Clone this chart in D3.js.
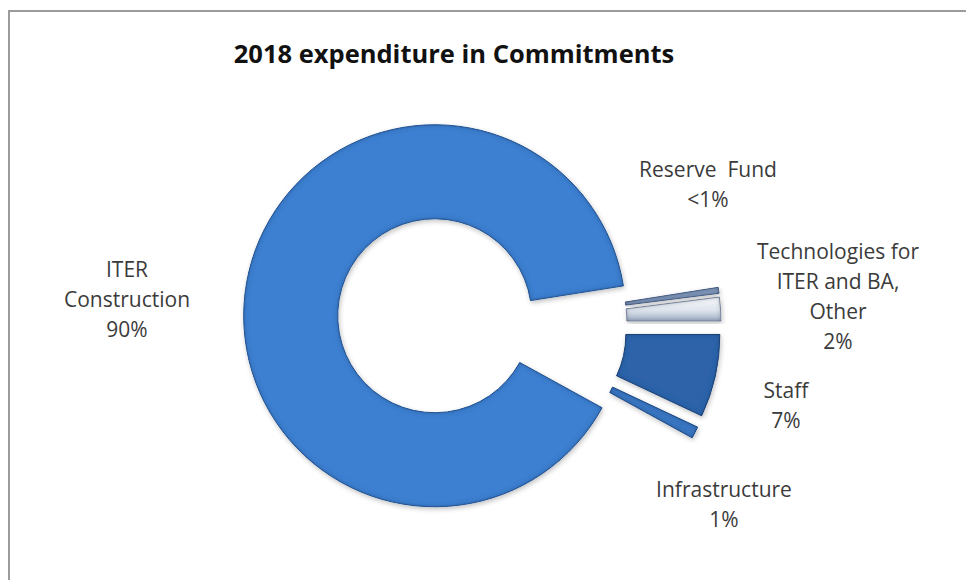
<!DOCTYPE html>
<html>
<head>
<meta charset="utf-8">
<script src="https://cdn.jsdelivr.net/npm/d3@7"></script>
<style>
  body { margin: 0; background: #fff; }
  svg { display: block; }
  .title { font-family: 'Open Sans', sans-serif; font-weight: bold; fill: #111; }
  .lbl { font-family: 'Open Sans', sans-serif; fill: #3b3b3b; }
</style>
</head>
<body>
<div id="chart"></div>
<script>
// data
const categories = ['ITER Construction', 'Reserve Fund', 'Technologies for ITER and BA, Other', 'Staff', 'Infrastructure'];
const shares = [89.5, 0.5, 2, 7, 1];
const shareLabels = ['90%', '<1%', '2%', '7%', '1%'];
const labelLines = [
  ['ITER', 'Construction'],
  ['Reserve  Fund'],
  ['Technologies for', 'ITER and BA,', 'Other'],
  ['Staff'],
  ['Infrastructure'],
];
const title = '2018 expenditure in Commitments';

const width = 966;
const height = 580;

// where each label block sits (centre x, first baseline y)
const labelPos = [
  { x: 127, y: 277 },
  { x: 708, y: 177 },
  { x: 838, y: 259 },
  { x: 786, y: 398 },
  { x: 724, y: 497 },
];
const fills = ['#3d7fd0', '#8299bb', 'url(#techGrad)', '#2f63aa', '#3b76c2'];
const strokes = ['#2a5b9e', '#52698f', '#8a97ab', '#1f477f', '#24518f'];

const center = { x: 482, y: 324 };
const outerR = 191;
const innerR = 97;
const explode = 48;
const degToRad = deg => (deg * Math.PI) / 180;

const svg = d3
  .select('#chart')
  .append('svg')
  .attr('width', width)
  .attr('height', height);

const defs = svg.append('defs');
const techGrad = defs
  .append('linearGradient')
  .attr('id', 'techGrad')
  .attr('x1', 0).attr('y1', 0)
  .attr('x2', 0).attr('y2', 1);
techGrad.append('stop').attr('offset', '0%').attr('stop-color', '#f7f9fc');
techGrad.append('stop').attr('offset', '55%').attr('stop-color', '#dfe5ee');
techGrad.append('stop').attr('offset', '100%').attr('stop-color', '#9eadc4');

// soft bevel: darker rim inside the edge, plus a light drop shadow
const bevel = defs.append('filter').attr('id', 'bevel')
  .attr('x', '-10%').attr('y', '-10%').attr('width', '120%').attr('height', '120%');
bevel.append('feGaussianBlur')
  .attr('in', 'SourceAlpha').attr('stdDeviation', 2.5).attr('result', 'blur');
bevel.append('feComposite')
  .attr('in', 'SourceAlpha').attr('in2', 'blur')
  .attr('operator', 'arithmetic')
  .attr('k1', 0).attr('k2', 1).attr('k3', -1).attr('k4', 0)
  .attr('result', 'edge');
bevel.append('feFlood').attr('flood-color', '#16345f').attr('flood-opacity', 0.7);
bevel.append('feComposite').attr('in2', 'edge').attr('operator', 'in').attr('result', 'edgeCol');
bevel.append('feOffset').attr('in', 'blur').attr('dx', 1).attr('dy', 2).attr('result', 'off');
bevel.append('feComponentTransfer').attr('in', 'off').attr('result', 'shadow')
  .append('feFuncA').attr('type', 'linear').attr('slope', 0.25);
const merge = bevel.append('feMerge');
merge.append('feMergeNode').attr('in', 'shadow');
merge.append('feMergeNode').attr('in', 'SourceGraphic');
merge.append('feMergeNode').attr('in', 'edgeCol');

// frame (top and left edges only are visible)
svg.append('path')
  .attr('d', `M9,${height} L9,11 L${width},11`)
  .attr('fill', 'none')
  .attr('stroke', '#9b9b9b')
  .attr('stroke-width', 2);

svg.append('text')
  .attr('class', 'title')
  .attr('x', 454)
  .attr('y', 63)
  .attr('text-anchor', 'middle')
  .style('font-size', '25.5px')
  .text(title);

const pie = d3
  .pie()
  .sort(null)
  .value(d => d)
  .startAngle(degToRad(118.8))
  .endAngle(degToRad(118.8 + 360));

const arc = d3.arc().innerRadius(innerR).outerRadius(outerR);

const slices = pie(shares);

const g = svg.append('g').attr('transform', `translate(${center.x},${center.y})`);

g.selectAll('path.slice')
  .data(slices)
  .join('path')
  .attr('class', 'slice')
  .attr('transform', d => {
    const mid = (d.startAngle + d.endAngle) / 2;
    return `translate(${explode * Math.sin(mid)},${-explode * Math.cos(mid)})`;
  })
  .attr('d', arc)
  .attr('fill', (d, i) => fills[i])
  .attr('stroke', (d, i) => strokes[i])
  .attr('stroke-width', 1)
  .attr('stroke-linejoin', 'round')
  .attr('filter', 'url(#bevel)');

// labels
const lineH = 30;
const labels = svg.selectAll('text.lbl')
  .data(categories)
  .join('text')
  .attr('class', 'lbl')
  .attr('text-anchor', 'middle')
  .style('font-size', '21px')
  .attr('x', (d, i) => labelPos[i].x)
  .attr('y', (d, i) => labelPos[i].y);

labels.each(function (d, i) {
  const t = d3.select(this);
  const lines = labelLines[i].concat([shareLabels[i]]);
  lines.forEach((line, j) => {
    t.append('tspan')
      .attr('x', labelPos[i].x)
      .attr('dy', j === 0 ? 0 : lineH)
      .attr('xml:space', 'preserve')
      .text(line);
  });
});
</script>
</body>
</html>
